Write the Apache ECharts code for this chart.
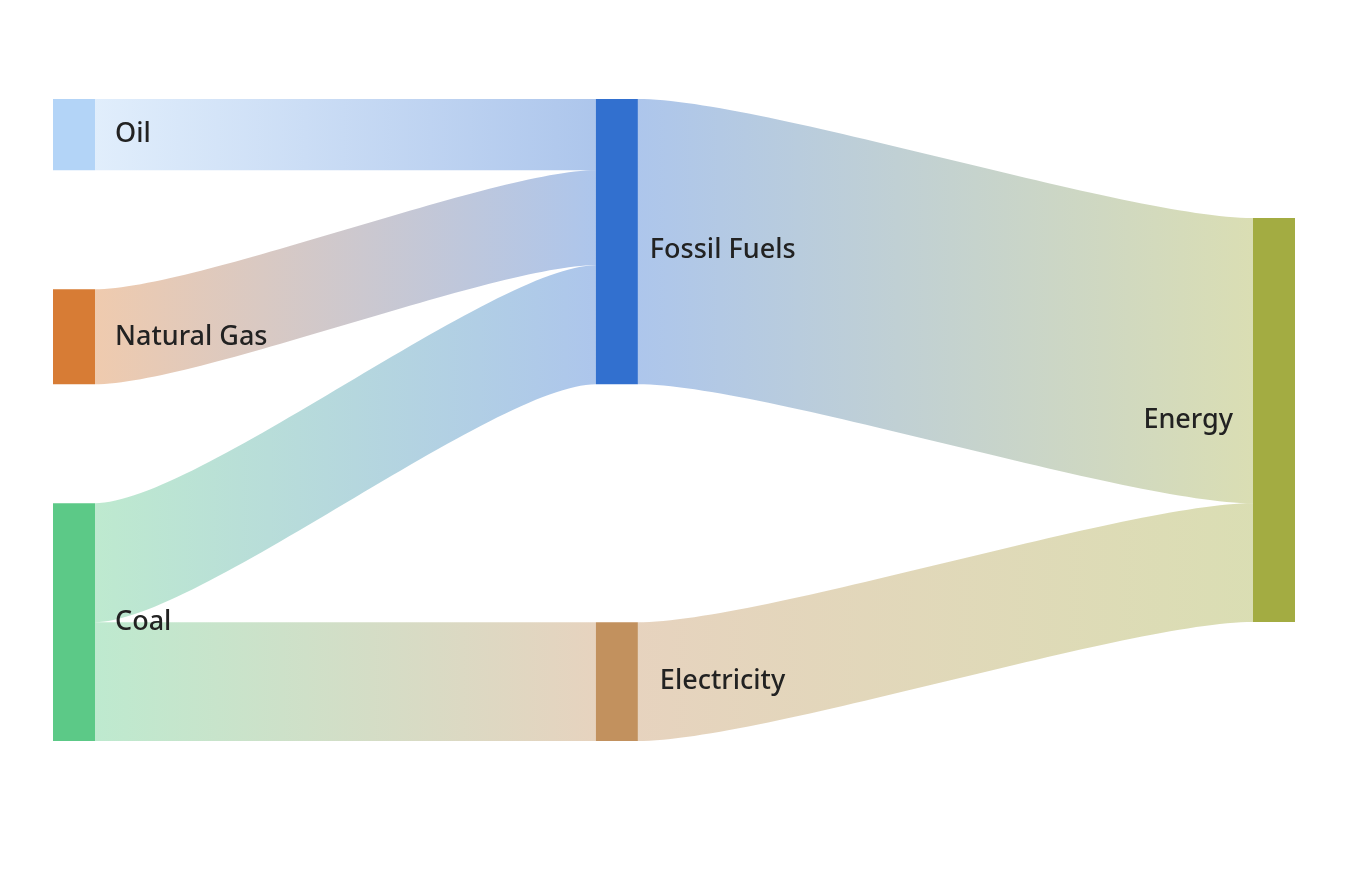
<!DOCTYPE html>
<html>
<head>
<meta charset="utf-8">
<style>
  html, body { margin: 0; padding: 0; background: #fff; }
  #chart { width: 1358px; height: 886px; }
</style>
<script src="https://cdn.jsdelivr.net/npm/echarts@6/dist/echarts.min.js"></script>
</head>
<body>
<div id="chart"></div>
<script>
// nodes, their colours and column (depth)
const nodeNames = ['Oil', 'Natural Gas', 'Coal', 'Fossil Fuels', 'Electricity', 'Energy']
const nodeColors = ['#b3d4f7', '#d77c35', '#5cc987', '#3270cf', '#c2915e', '#a3ac42']
const nodeDepths = [0, 0, 0, 19, 19, 42]

// flows
const linkSources = ['Oil', 'Natural Gas', 'Coal', 'Coal', 'Fossil Fuels', 'Electricity']
const linkTargets = ['Fossil Fuels', 'Fossil Fuels', 'Fossil Fuels', 'Electricity', 'Energy', 'Energy']
const linkValues = [15, 20, 25, 25, 60, 25]

// empty spacer nodes that keep the vertical arrangement (inserted before the named node)
const spacerBefore = ['Electricity', 'Energy']

const chart = echarts.init(document.getElementById('chart'))

const nodes = []
nodeNames.forEach((name, i) => {
  if (spacerBefore.includes(name)) {
    nodes.push({
      name: '_spacer_' + name,
      depth: nodeDepths[i],
      value: 0,
      label: { show: false },
      itemStyle: { opacity: 0 }
    })
  }
  const node = { name: name, depth: nodeDepths[i], itemStyle: { color: nodeColors[i] } }
  if (name === 'Energy') node.label = { position: 'left', distance: 20 }
  if (name === 'Fossil Fuels') node.label = { distance: 12, offset: [0, 9] }
  if (name === 'Electricity') node.label = { distance: 22 }
  nodes.push(node)
})

const option = {
  animation: false,
  series: [
    {
      type: 'sankey',
      left: 53,
      right: 63,
      top: 99,
      bottom: 145,
      nodeWidth: 42,
      nodeGap: 119,
      layoutIterations: 0,
      emphasis: { disabled: true },
      label: {
        position: 'right',
        distance: 20,
        color: '#222',
        fontSize: 27,
        fontFamily: 'Noto Sans',
        fontWeight: 500
      },
      itemStyle: { borderWidth: 0 },
      lineStyle: {
        color: 'gradient',
        opacity: 0.4,
        curveness: 0.2
      },
      data: nodes,
      links: linkSources.map((s, i) => ({
        source: s,
        target: linkTargets[i],
        value: linkValues[i]
      }))
    }
  ]
}

chart.setOption(option)
</script>
</body>
</html>
